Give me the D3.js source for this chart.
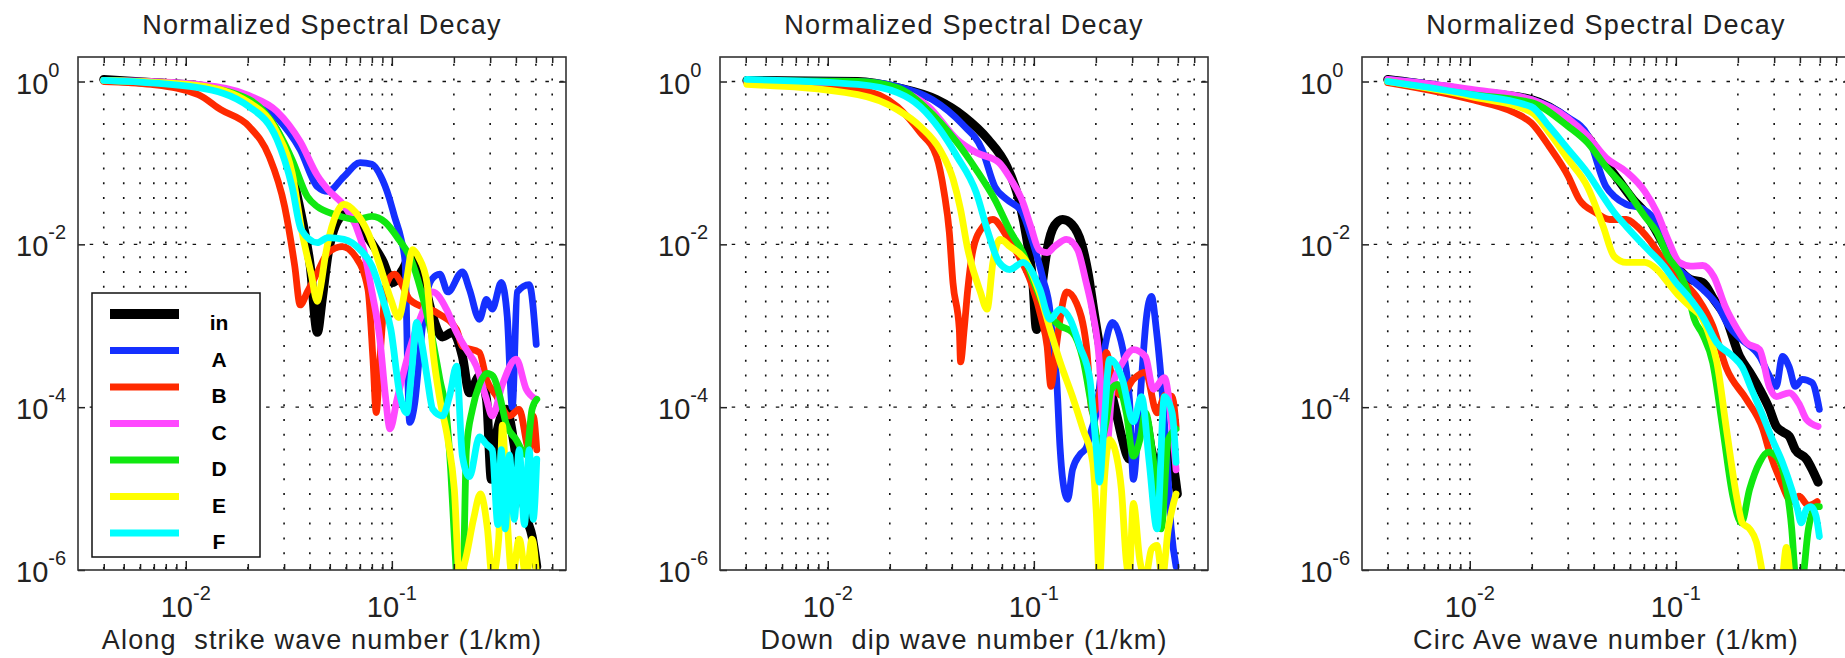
<!DOCTYPE html>
<html>
<head>
<meta charset="utf-8">
<script src="https://cdn.jsdelivr.net/npm/d3@7"></script>
<style>
  body { margin: 0; background: #fff; }
  text { font-family: "Liberation Sans", Arial, Helvetica, sans-serif; fill: #222; }
</style>
</head>
<body>
<div id="chart"></div>
<script>
//series names and colours (plot order: in, A..F)
var seriesNames = ["in", "A", "B", "C", "D", "E", "F"];
var seriesColors = ["#000000", "#1530ff", "#ff2a00", "#ff48ff", "#10e810", "#ffff00", "#00ffff"];

//axis ticks
var xDomain = [0.003, 0.7];
var yDomain = [1e-6, 2];
var xMajor = [0.01, 0.1];
var xMinor = [0.004, 0.005, 0.006, 0.007, 0.008, 0.009, 0.02, 0.03, 0.04, 0.05, 0.06, 0.07, 0.08, 0.09, 0.2, 0.3, 0.4, 0.5, 0.6];
var yMajor = [1, 1e-2, 1e-4, 1e-6];
var yGrid = [1, 1e-2, 1e-4];

var titles = ["Normalized Spectral Decay", "Normalized Spectral Decay", "Normalized Spectral Decay"];
var xLabels = ["Along  strike wave number (1/km)", "Down  dip wave number (1/km)", "Circ Ave wave number (1/km)"];

//panel 1: along strike  [wave number, normalized amplitude]
var strikeIn = [[0.004,1.06],[0.0068,0.97],[0.0115,0.89],[0.0165,0.73],[0.0206,0.58],[0.0244,0.38],[0.0288,0.194],[0.0328,0.072],[0.0363,0.0233],[0.0401,0.0057],[0.0435,8.3e-4],[0.0459,2.1e-3],[0.049,7.5e-3],[0.0535,0.0175],[0.059,0.0233],[0.066,0.0202],[0.0766,0.0121],[0.0905,0.0062],[0.101,0.0034],[0.113,0.0049],[0.126,0.0079],[0.141,0.0040],[0.158,0.0013],[0.176,7.3e-4],[0.197,8.3e-4],[0.22,4.2e-4],[0.238,1.5e-4],[0.266,2.4e-4],[0.288,1.25e-4],[0.304,1.3e-5],[0.32,4.3e-5],[0.359,9.4e-5],[0.401,2.5e-5],[0.449,4.5e-6],[0.479,2.6e-6],[0.505,1.1e-6]];
var strikeA = [[0.004,1.03],[0.0068,0.97],[0.0115,0.87],[0.0203,0.65],[0.0277,0.36],[0.0359,0.146],[0.0435,0.051],[0.049,0.0447],[0.0586,0.0682],[0.0701,0.101],[0.0801,0.096],[0.0885,0.0682],[0.0967,0.0385],[0.103,0.022],[0.111,0.0115],[0.116,0.006],[0.12,1.66e-4],[0.122,6.5e-5],[0.129,1.1e-4],[0.137,5.1e-4],[0.146,2.1e-3],[0.156,3.7e-3],[0.171,4.3e-3],[0.187,2.6e-3],[0.22,4.6e-3],[0.238,2.8e-3],[0.266,1.2e-3],[0.288,2.1e-3],[0.307,1.6e-3],[0.34,3.4e-3],[0.363,1.3e-3],[0.384,1.0e-4],[0.406,2.6e-3],[0.464,3.2e-3],[0.502,5.9e-4]];
var strikeB = [[0.004,1.0],[0.0068,0.92],[0.0115,0.69],[0.0148,0.45],[0.0203,0.28],[0.0254,0.12],[0.0302,0.029],[0.0338,0.0054],[0.0359,1.8e-3],[0.0389,2.6e-3],[0.0435,4.5e-3],[0.049,7.9e-3],[0.0575,9.4e-3],[0.0668,7.0e-3],[0.0766,2.8e-3],[0.081,3.9e-4],[0.084,8.6e-5],[0.0875,3.9e-4],[0.094,3.2e-3],[0.103,4.3e-3],[0.112,3.2e-3],[0.122,2.1e-3],[0.165,1.45e-3],[0.206,9.0e-4],[0.22,5.6e-4],[0.266,4.7e-4],[0.288,2.2e-4],[0.32,1.4e-4],[0.372,7.8e-5],[0.415,9.4e-5],[0.464,3.0e-5],[0.485,7.8e-5],[0.505,3.0e-5]];
var strikeC = [[0.004,1.03],[0.0068,1.0],[0.0115,0.92],[0.0203,0.67],[0.0277,0.43],[0.0359,0.183],[0.0435,0.07],[0.049,0.047],[0.0586,0.03],[0.0668,0.017],[0.0733,0.0082],[0.0801,2.6e-3],[0.0875,6.8e-4],[0.093,1.4e-4],[0.098,5.4e-5],[0.106,1.25e-4],[0.122,5.1e-4],[0.14,1.4e-3],[0.158,2.6e-3],[0.184,1.6e-3],[0.206,8.3e-4],[0.23,5.1e-4],[0.257,3.2e-4],[0.288,1.25e-4],[0.307,7.8e-5],[0.344,1.9e-4],[0.401,3.9e-4],[0.449,1.66e-4],[0.502,1.25e-4]];
var strikeD = [[0.004,1.03],[0.0115,0.87],[0.0203,0.6],[0.0277,0.257],[0.0328,0.11],[0.0389,0.0386],[0.0435,0.029],[0.0529,0.0233],[0.0668,0.0202],[0.0801,0.022],[0.093,0.0186],[0.108,0.0115],[0.124,0.0065],[0.138,2.8e-3],[0.154,9.0e-4],[0.171,2.2e-4],[0.185,7.1e-5],[0.193,1.7e-5],[0.2,3.2e-6],[0.206,8e-7],[0.213,3e-7],[0.223,1.3e-6],[0.23,3.0e-5],[0.246,9.4e-5],[0.266,1.9e-4],[0.29,2.6e-4],[0.31,2.4e-4],[0.333,1.4e-4],[0.359,6.2e-5],[0.401,4.0e-5],[0.449,2.6e-5],[0.479,9.4e-5],[0.505,1.25e-4]];
var strikeE = [[0.004,1.03],[0.0115,0.89],[0.0203,0.55],[0.0277,0.236],[0.0328,0.076],[0.0367,0.0139],[0.0405,0.0045],[0.0435,2.0e-3],[0.0449,2.8e-3],[0.0477,7.5e-3],[0.0525,0.0202],[0.0586,0.031],[0.0668,0.0246],[0.0766,0.0139],[0.0865,0.006],[0.0989,2.1e-3],[0.108,1.26e-3],[0.117,3.2e-3],[0.126,8.6e-3],[0.135,6.9e-3],[0.148,3.4e-3],[0.158,5.1e-4],[0.171,1.25e-4],[0.187,4.0e-5],[0.201,9.8e-6],[0.213,8e-7],[0.227,1.3e-6],[0.249,4.2e-6],[0.269,8.6e-6],[0.291,3.2e-6],[0.307,8e-7],[0.33,2.4e-6],[0.344,6.0e-5],[0.363,4.2e-6],[0.384,8e-7],[0.415,2.4e-6],[0.449,8e-7],[0.479,2.4e-6],[0.505,8e-7]];
var strikeF = [[0.004,1.03],[0.0115,0.84],[0.0203,0.49],[0.0277,0.194],[0.0328,0.051],[0.0363,0.0152],[0.0435,0.0105],[0.049,0.0121],[0.0586,0.0115],[0.0701,0.0086],[0.0801,0.0054],[0.0905,2.1e-3],[0.0989,9.0e-4],[0.109,1.5e-4],[0.118,8.5e-5],[0.125,2.9e-4],[0.132,1.1e-3],[0.14,5.9e-4],[0.148,2.4e-4],[0.158,9.4e-5],[0.176,7.8e-5],[0.191,1.4e-4],[0.206,3.2e-4],[0.22,2.5e-5],[0.238,1.4e-5],[0.266,4.3e-5],[0.288,3.5e-5],[0.307,3.0e-5],[0.327,3.6e-6],[0.34,3e-5],[0.355,3.2e-6],[0.372,2.6e-5],[0.393,4.2e-6],[0.415,3e-5],[0.44,3.6e-6],[0.464,3e-5],[0.485,4.2e-6],[0.505,2.3e-5]];

//panel 2: down dip
var dipIn = [[0.00405,1.03],[0.014,1.0],[0.0218,0.84],[0.0337,0.6],[0.0459,0.37],[0.06,0.194],[0.074,0.09],[0.0846,0.0355],[0.0925,0.0115],[0.0989,0.0034],[0.103,9.0e-4],[0.109,2.8e-3],[0.116,8.6e-3],[0.126,0.0171],[0.138,0.0202],[0.153,0.0176],[0.171,0.0099],[0.184,0.0042],[0.195,1.6e-3],[0.208,5.9e-4],[0.233,1.9e-4],[0.252,8.2e-5],[0.269,4.0e-5],[0.291,2.3e-5],[0.318,4.0e-5],[0.348,7.1e-5],[0.372,3.0e-5],[0.396,1.7e-5],[0.434,3.5e-5],[0.469,2.3e-5],[0.497,8.6e-6]];
var dipA = [[0.00405,1.03],[0.014,1.0],[0.0218,0.87],[0.0322,0.6],[0.0449,0.3],[0.0561,0.146],[0.0647,0.051],[0.074,0.0355],[0.0875,0.0252],[0.0978,0.0115],[0.111,3.7e-3],[0.12,1.45e-3],[0.124,5.6e-4],[0.129,2.2e-4],[0.134,3.2e-5],[0.138,1.3e-5],[0.146,7.4e-6],[0.154,1.7e-5],[0.167,2.6e-5],[0.18,3.2e-5],[0.191,5.4e-5],[0.201,8.5e-5],[0.213,2.9e-4],[0.225,6.8e-4],[0.241,1.1e-3],[0.26,7.7e-4],[0.278,3.4e-4],[0.291,1.25e-4],[0.304,1.3e-5],[0.318,4.0e-5],[0.333,2.2e-4],[0.351,1.2e-3],[0.372,2.3e-3],[0.393,9.0e-4],[0.415,2.2e-4],[0.44,3.0e-5],[0.464,3.2e-6],[0.49,1.1e-6]];
var dipB = [[0.00405,0.97],[0.014,0.8],[0.0218,0.49],[0.0281,0.236],[0.0337,0.12],[0.0367,0.0434],[0.0389,0.014],[0.0405,3.4e-3],[0.0435,9.0e-4],[0.0441,3.6e-4],[0.0459,9.0e-4],[0.0478,2.8e-3],[0.0507,8.6e-3],[0.0567,0.0166],[0.0633,0.0202],[0.074,0.0125],[0.0827,0.0079],[0.0978,3.2e-3],[0.109,1.2e-3],[0.116,5.6e-4],[0.121,1.8e-4],[0.128,5.1e-4],[0.134,1.2e-3],[0.144,2.6e-3],[0.161,1.9e-3],[0.18,5.6e-4],[0.193,8.5e-5],[0.206,1.25e-4],[0.225,4.7e-4],[0.243,1.9e-4],[0.266,1.4e-4],[0.304,2.2e-4],[0.348,2.7e-4],[0.396,8.5e-5],[0.434,1.4e-4],[0.469,1.35e-4],[0.49,5.8e-5]];
var dipC = [[0.00405,1.0],[0.014,0.97],[0.0218,0.8],[0.0309,0.49],[0.0424,0.194],[0.0525,0.134],[0.0678,0.101],[0.0774,0.0625],[0.0885,0.0327],[0.0967,0.0165],[0.106,0.0086],[0.116,0.0079],[0.126,0.0094],[0.144,0.0115],[0.163,0.0086],[0.178,3.7e-3],[0.193,1.45e-3],[0.208,3.6e-4],[0.216,7.1e-5],[0.225,3.0e-5],[0.241,1.8e-4],[0.269,3.5e-4],[0.304,5.1e-4],[0.348,4.2e-4],[0.38,1.66e-4],[0.43,2.3e-4],[0.469,5.4e-5],[0.49,1.7e-5]];
var dipD = [[0.00405,1.03],[0.014,1.0],[0.0218,0.84],[0.0295,0.49],[0.0424,0.178],[0.0525,0.083],[0.0647,0.0355],[0.0774,0.014],[0.0885,0.0079],[0.0989,3.7e-3],[0.116,1.45e-3],[0.134,1.0e-3],[0.154,8.3e-4],[0.173,3.9e-4],[0.193,8.5e-5],[0.208,3.3e-5],[0.223,6.2e-5],[0.238,1.66e-4],[0.255,1.9e-4],[0.281,8.5e-5],[0.304,2.5e-5],[0.327,4.0e-5],[0.348,8.5e-5],[0.38,2.3e-5],[0.415,3.2e-6],[0.449,4.0e-5],[0.49,5.4e-5]];
var dipE = [[0.00405,0.92],[0.014,0.69],[0.0218,0.45],[0.0281,0.28],[0.035,0.146],[0.0406,0.0625],[0.0441,0.0268],[0.0475,0.0094],[0.055,2.6e-3],[0.0593,1.6e-3],[0.0633,6.0e-3],[0.0685,0.0115],[0.0766,0.0094],[0.0925,6.0e-3],[0.106,2.6e-3],[0.12,9.0e-4],[0.134,3.6e-4],[0.154,1.35e-4],[0.173,5.4e-5],[0.193,2.1e-5],[0.201,5.0e-6],[0.208,8e-7],[0.22,1.3e-5],[0.233,4.0e-5],[0.252,2.5e-5],[0.266,9.8e-6],[0.281,1.3e-6],[0.29,8e-7],[0.304,6.6e-6],[0.327,1.3e-6],[0.348,8e-7],[0.372,1.8e-6],[0.396,2.0e-6],[0.42,8e-7],[0.449,3.2e-6],[0.49,8.6e-6]];
var dipF = [[0.00405,1.06],[0.014,0.92],[0.0218,0.73],[0.0281,0.49],[0.035,0.257],[0.0424,0.12],[0.0525,0.0434],[0.06,0.014],[0.0678,6.0e-3],[0.0766,4.9e-3],[0.0885,6.0e-3],[0.0967,4.9e-3],[0.107,2.8e-3],[0.12,1.2e-3],[0.134,1.6e-3],[0.15,1.2e-3],[0.167,5.6e-4],[0.187,2.2e-4],[0.201,3.0e-5],[0.208,1.2e-5],[0.22,7.1e-5],[0.233,3.9e-4],[0.249,3.4e-4],[0.269,2.2e-4],[0.304,6.6e-5],[0.333,1.35e-4],[0.363,2.1e-5],[0.396,3.2e-6],[0.43,1.35e-4],[0.469,8.5e-5],[0.49,2.1e-5]];

//panel 3: circular average
var circIn = [[0.004,1.06],[0.0067,0.89],[0.0102,0.75],[0.0199,0.6],[0.0301,0.341],[0.0372,0.211],[0.0444,0.11],[0.0525,0.0625],[0.062,0.0355],[0.0708,0.0246],[0.081,0.014],[0.0915,0.008],[0.104,0.0049],[0.118,3.7e-3],[0.135,3.4e-3],[0.153,2.1e-3],[0.174,1.3e-3],[0.204,4.2e-4],[0.228,2.7e-4],[0.255,1.66e-4],[0.285,9.4e-5],[0.307,5.8e-5],[0.329,5.0e-5],[0.355,4.4e-5],[0.38,3.0e-5],[0.43,2.3e-5],[0.458,1.73e-5],[0.49,1.2e-5]];
var circA = [[0.004,1.06],[0.0067,0.92],[0.0102,0.78],[0.0199,0.6],[0.0301,0.36],[0.0372,0.223],[0.0458,0.0514],[0.0502,0.039],[0.0575,0.031],[0.0678,0.028],[0.0774,0.0212],[0.0875,0.0115],[0.1,0.0055],[0.114,4.0e-3],[0.135,2.8e-3],[0.161,1.7e-3],[0.18,1.0e-3],[0.208,6.8e-4],[0.255,4.2e-4],[0.285,2.4e-4],[0.307,1.8e-4],[0.329,4.2e-4],[0.355,3.1e-4],[0.38,1.8e-4],[0.41,2.2e-4],[0.458,2.0e-4],[0.497,9.4e-5]];
var circB = [[0.004,0.97],[0.0102,0.6],[0.0163,0.42],[0.0199,0.31],[0.0243,0.159],[0.0301,0.068],[0.034,0.0355],[0.0408,0.0246],[0.0478,0.0202],[0.0575,0.0202],[0.0648,0.0166],[0.074,0.0115],[0.0846,0.0071],[0.0956,0.0045],[0.109,3.4e-3],[0.129,2.1e-3],[0.151,1.0e-3],[0.176,3.0e-4],[0.22,1.25e-4],[0.264,5.4e-5],[0.285,2.8e-5],[0.32,1.3e-5],[0.365,6.9e-6],[0.396,8.1e-6],[0.44,6.2e-6],[0.485,6.9e-6]];
var circC = [[0.004,1.06],[0.0102,0.8],[0.0199,0.6],[0.0301,0.35],[0.0372,0.217],[0.0458,0.116],[0.0575,0.078],[0.0708,0.0445],[0.081,0.0246],[0.0915,0.0115],[0.104,0.006],[0.118,0.0054],[0.135,0.0055],[0.153,4.0e-3],[0.174,1.7e-3],[0.199,9.0e-4],[0.22,6.2e-4],[0.255,5.1e-4],[0.285,1.75e-4],[0.307,1.35e-4],[0.355,1.5e-4],[0.396,1.1e-4],[0.43,7.1e-5],[0.49,5.8e-5]];
var circD = [[0.004,1.0],[0.0102,0.69],[0.0199,0.55],[0.0301,0.28],[0.0372,0.178],[0.0458,0.09],[0.0575,0.0471],[0.0708,0.022],[0.081,0.014],[0.0915,0.0071],[0.104,0.0045],[0.114,2.6e-3],[0.123,1.2e-3],[0.135,7.8e-4],[0.151,3.5e-4],[0.169,5.4e-5],[0.189,8.1e-6],[0.208,3.8e-6],[0.228,9.8e-6],[0.255,2.1e-5],[0.281,2.8e-5],[0.307,2.5e-5],[0.344,1.05e-5],[0.365,3.2e-6],[0.38,8e-7],[0.4,4e-7],[0.415,8e-7],[0.44,3.2e-6],[0.479,6.0e-6],[0.497,6.0e-6]];
var circE = [[0.004,1.0],[0.0102,0.65],[0.0199,0.42],[0.0243,0.236],[0.0301,0.11],[0.0372,0.0514],[0.0444,0.0166],[0.0502,0.0071],[0.0575,0.006],[0.0708,0.006],[0.081,0.0049],[0.0915,3.4e-3],[0.104,2.3e-3],[0.118,1.7e-3],[0.135,1.2e-3],[0.146,7.3e-4],[0.158,3.6e-4],[0.176,5.4e-5],[0.197,8.1e-6],[0.21,3.8e-6],[0.228,3.2e-6],[0.246,2.2e-6],[0.266,8e-7],[0.297,2.5e-7],[0.329,8e-7],[0.344,1.9e-6],[0.359,8e-7],[0.38,2.5e-7]];
var circF = [[0.004,1.0],[0.0102,0.69],[0.0199,0.49],[0.0243,0.28],[0.0301,0.146],[0.0372,0.076],[0.0444,0.0386],[0.0502,0.0246],[0.0575,0.0166],[0.0708,0.0094],[0.0875,0.0054],[0.1,3.4e-3],[0.118,2.1e-3],[0.135,1.3e-3],[0.158,6.2e-4],[0.189,4.2e-4],[0.21,3.1e-4],[0.233,1.66e-4],[0.261,8.5e-5],[0.294,4.0e-5],[0.329,2.1e-5],[0.365,9.8e-6],[0.389,5.6e-6],[0.406,3.8e-6],[0.43,5.6e-6],[0.452,6.0e-6],[0.479,4.6e-6],[0.497,2.6e-6]];

var panelData = [
    [strikeIn, strikeA, strikeB, strikeC, strikeD, strikeE, strikeF],
    [dipIn, dipA, dipB, dipC, dipD, dipE, dipF],
    [circIn, circA, circB, circC, circD, circE, circF]
];

//define svg
var svgWidth = 1845;
var svgHeight = 658;
var panelLeft = [78, 720, 1362];
var plotTop = 57;
var plotWidth = 488;
var plotHeight = 513;

var svg = d3.select("#chart")
    .append("svg")
    .attr("width", svgWidth)
    .attr("height", svgHeight)
    .style("background", "#fff");

var xScale = d3.scaleLog().domain(xDomain).range([0, plotWidth]);
var yScale = d3.scaleLog().domain(yDomain).range([plotHeight, 0]);

var lineGen = d3.line()
    .curve(d3.curveMonotoneX)
    .x(d => xScale(d[0]))
    .y(d => yScale(d[1]));

//label like 10^-2 using a raised tspan
function powLabel(sel, v) {
    var e = Math.round(Math.log10(v));
    sel.append("tspan").style("font-size", "29px").text("10");
    sel.append("tspan").style("font-size", "20px").attr("dy", -17).text(e);
}

panelData.forEach(function (series, i) {
    var g = svg.append("g")
        .attr("transform", `translate(${panelLeft[i]}, ${plotTop})`);

    g.append("clipPath")
        .attr("id", "clip" + i)
        .append("rect")
        .attr("width", plotWidth)
        .attr("height", plotHeight);

    //dotted vertical grid at every x tick
    g.selectAll(".vgrid")
        .data(xMajor.concat(xMinor))
        .enter()
        .append("line")
        .attr("x1", d => xScale(d))
        .attr("x2", d => xScale(d))
        .attr("y1", 0)
        .attr("y2", plotHeight)
        .attr("stroke", "#111")
        .attr("stroke-width", 1.6)
        .attr("stroke-dasharray", "2,12.8")
        .attr("stroke-dashoffset", 8);

    //dashed horizontal grid at labelled decades
    g.selectAll(".hgrid")
        .data(yGrid)
        .enter()
        .append("line")
        .attr("x1", 0)
        .attr("x2", plotWidth)
        .attr("y1", d => yScale(d))
        .attr("y2", d => yScale(d))
        .attr("stroke", "#111")
        .attr("stroke-width", 1.4)
        .attr("stroke-dasharray", "3.5,11.2")
        .attr("stroke-dashoffset", 3);

    //curves
    g.append("g")
        .attr("clip-path", `url(#clip${i})`)
        .selectAll("path")
        .data(series)
        .enter()
        .append("path")
        .attr("d", lineGen)
        .attr("fill", "none")
        .attr("stroke", (d, j) => seriesColors[j])
        .attr("stroke-width", (d, j) => j === 0 ? 9 : 6.8)
        .attr("stroke-linejoin", "round")
        .attr("stroke-linecap", "round");

    //inward ticks on all four sides
    var bottomMinor = d3.axisBottom(xScale).tickValues(xMinor).tickSize(-6).tickFormat("");
    var bottomMajor = d3.axisBottom(xScale).tickValues(xMajor).tickSize(-9).tickFormat("");
    var topMinor = d3.axisTop(xScale).tickValues(xMinor).tickSize(-6).tickFormat("");
    var topMajor = d3.axisTop(xScale).tickValues(xMajor).tickSize(-9).tickFormat("");
    var leftAxis = d3.axisLeft(yScale).tickValues(yMajor).tickSize(-7).tickFormat("");
    var rightAxis = d3.axisRight(yScale).tickValues(yMajor).tickSize(-7).tickFormat("");

    [[bottomMinor, 0, plotHeight], [bottomMajor, 0, plotHeight], [topMinor, 0, 0], [topMajor, 0, 0],
     [leftAxis, 0, 0], [rightAxis, plotWidth, 0]].forEach(function (a) {
        var ax = g.append("g")
            .attr("transform", `translate(${a[1]}, ${a[2]})`)
            .call(a[0]);
        ax.select(".domain").remove();
        ax.selectAll("line").attr("stroke", "#222").attr("stroke-width", 1.5);
    });

    //box
    g.append("rect")
        .attr("width", plotWidth)
        .attr("height", plotHeight)
        .attr("fill", "none")
        .attr("stroke", "#333")
        .attr("stroke-width", 1.6);

    //y tick labels
    yMajor.forEach(function (v) {
        var t = g.append("text")
            .attr("x", -62)
            .attr("y", yScale(v) + 12);
        powLabel(t, v);
    });

    //x tick labels
    xMajor.forEach(function (v) {
        var t = g.append("text")
            .attr("x", xScale(v))
            .attr("y", plotHeight + 47)
            .attr("text-anchor", "middle");
        powLabel(t, v);
    });

    //title
    g.append("text")
        .attr("x", plotWidth / 2)
        .attr("y", -23)
        .attr("text-anchor", "middle")
        .style("font-size", "27px")
        .style("letter-spacing", "1.3px")
        .text(titles[i]);

    //x axis label
    g.append("text")
        .attr("x", plotWidth / 2)
        .attr("y", plotHeight + 79)
        .attr("text-anchor", "middle")
        .style("font-size", "27px")
        .style("letter-spacing", "1.2px")
        .style("white-space", "pre")
        .text(xLabels[i]);

    //legend only in the first panel
    if (i === 0) {
        var leg = g.append("g");
        leg.append("rect")
            .attr("x", 14)
            .attr("y", 236)
            .attr("width", 168)
            .attr("height", 264)
            .attr("fill", "#fff")
            .attr("stroke", "#111")
            .attr("stroke-width", 1.5);
        seriesNames.forEach(function (name, j) {
            var ly = 257 + j * 36.5;
            leg.append("line")
                .attr("x1", 32)
                .attr("x2", 101)
                .attr("y1", ly)
                .attr("y2", ly)
                .attr("stroke", seriesColors[j])
                .attr("stroke-width", j === 0 ? 10 : 7);
            leg.append("text")
                .attr("x", 141)
                .attr("y", ly + 16)
                .attr("text-anchor", "middle")
                .style("font-size", "21px")
                .style("font-weight", "bold")
                .style("fill", "#000")
                .text(name);
        });
    }
});
</script>
</body>
</html>
